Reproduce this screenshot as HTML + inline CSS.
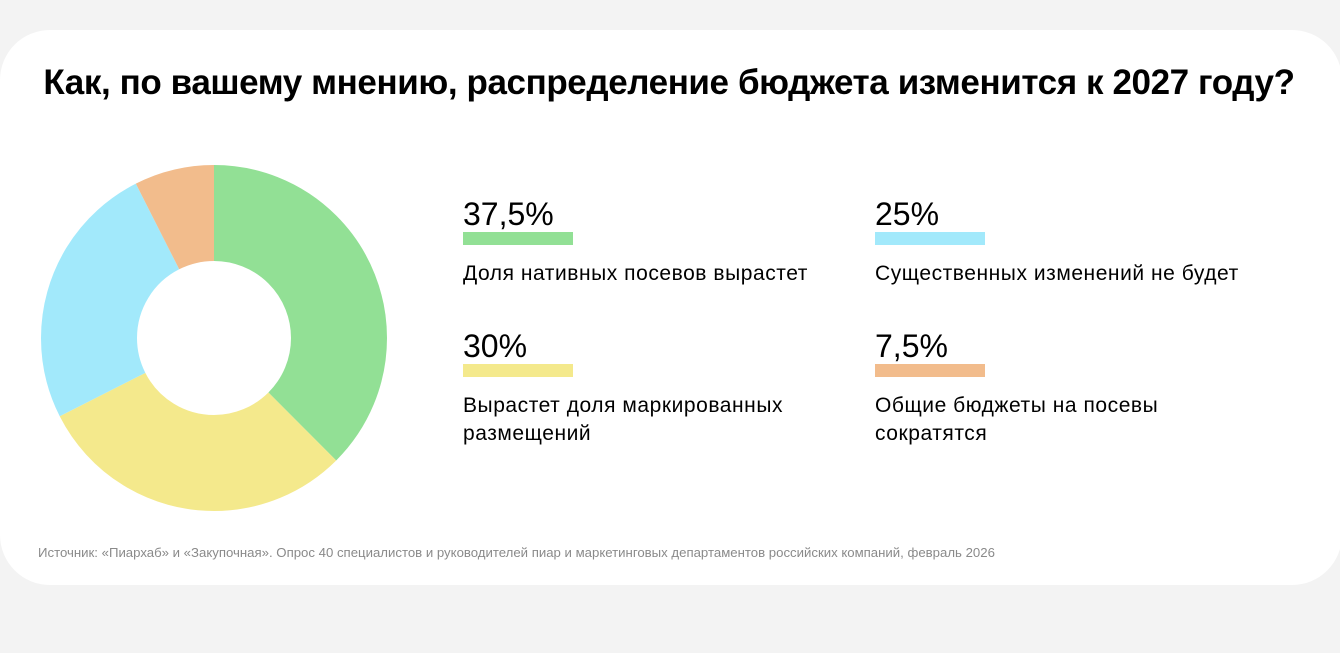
<!DOCTYPE html>
<html><head><meta charset="utf-8"><style>
html,body{margin:0;padding:0;background:#f3f3f3;}
body{width:1340px;height:653px;position:relative;overflow:hidden;font-family:"Liberation Sans",Arial,sans-serif;}
.card{position:absolute;left:0;top:30px;width:1342px;height:555px;background:#fff;border-radius:50px;}
h1{position:absolute;left:0;width:1338px;top:63px;margin:0;text-align:center;font-size:35px;font-weight:bold;color:#000;letter-spacing:-0.4px;}
.it{position:absolute;}
.num{font-size:32px;color:#000;line-height:36px;}
.bar{width:110px;height:13px;margin-top:0px;}
.lab{font-size:21px;color:#000;line-height:28px;margin-top:15px;letter-spacing:0.55px;}
.src{position:absolute;left:38px;top:545px;font-size:13.2px;color:#8a8a8a;}
</style></head><body>
<div class="card"></div>
<h1>Как, по вашему мнению, распределение бюджета изменится к 2027 году?</h1>
<svg style="position:absolute;left:0;top:0" width="440" height="560">
<g transform="rotate(-90 214 338)" fill="none" stroke-width="96">
<circle cx="214" cy="338" r="125" stroke="#92e095" stroke-dasharray="294.52 1000" stroke-dashoffset="0"/>
<circle cx="214" cy="338" r="125" stroke="#f4e98c" stroke-dasharray="235.62 1000" stroke-dashoffset="-294.52"/>
<circle cx="214" cy="338" r="125" stroke="#a2e9fb" stroke-dasharray="196.35 1000" stroke-dashoffset="-530.14"/>
<circle cx="214" cy="338" r="125" stroke="#f2bc8c" stroke-dasharray="58.9 1000" stroke-dashoffset="-726.49"/>
</g></svg>
<div class="it" style="left:463px;top:196px"><div class="num">37,5%</div><div class="bar" style="background:#92e095"></div><div class="lab">Доля нативных посевов вырастет</div></div>
<div class="it" style="left:875px;top:196px"><div class="num">25%</div><div class="bar" style="background:#a2e9fb"></div><div class="lab">Существенных изменений не будет</div></div>
<div class="it" style="left:463px;top:328px"><div class="num">30%</div><div class="bar" style="background:#f4e98c"></div><div class="lab">Вырастет доля маркированных<br>размещений</div></div>
<div class="it" style="left:875px;top:328px"><div class="num">7,5%</div><div class="bar" style="background:#f2bc8c"></div><div class="lab">Общие бюджеты на посевы<br>сократятся</div></div>
<div class="src">Источник: «Пиархаб» и «Закупочная». Опрос 40 специалистов и руководителей пиар и маркетинговых департаментов российских компаний, февраль 2026</div>
</body></html>
